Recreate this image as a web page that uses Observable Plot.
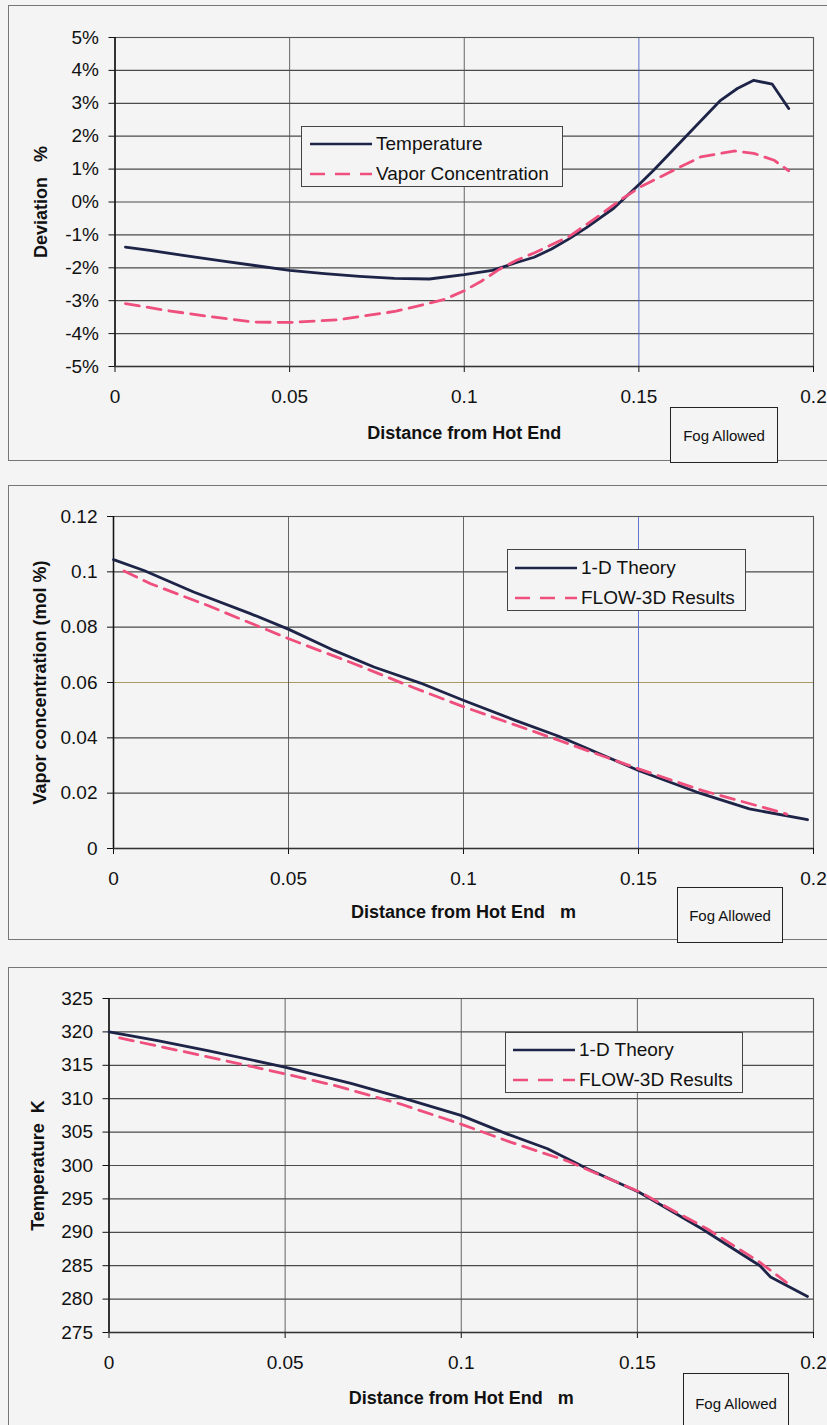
<!DOCTYPE html>
<html><head><meta charset="utf-8">
<script src="https://cdn.jsdelivr.net/npm/d3@7"></script>
<script src="https://cdn.jsdelivr.net/npm/@observablehq/plot@0.6"></script>
<style>
body{margin:0;background:#f4f4f4;font-family:"Liberation Sans",Arial,sans-serif;}
#page{position:relative;width:827px;height:1425px;overflow:hidden;background:#f4f4f4;}
.panel{position:absolute;left:0;}
.frame{position:absolute;border:1.5px solid #777;box-sizing:border-box;}
.legend{position:absolute;border:1px solid #444;background:#f4f4f4;box-sizing:border-box;font-size:19px;color:#111;}
.legend .item{position:absolute;display:flex;align-items:center;white-space:nowrap;}
.legend svg{display:block;}
.fog{position:absolute;border:1.5px solid #222;box-sizing:border-box;font-size:15px;display:flex;align-items:center;justify-content:center;color:#111;background:#f4f4f4;}
</style>
</head><body><div id="page"></div>
<script>
// ---------- Data ----------
const xTicks = [0, 0.05, 0.1, 0.15, 0.2];
const xTickLabels = ["0", "0.05", "0.1", "0.15", "0.2"];

// Panel 1: deviation (%)
const devTicks = [-5, -4, -3, -2, -1, 0, 1, 2, 3, 4, 5];
const devTickLabels = ["-5%", "-4%", "-3%", "-2%", "-1%", "0%", "1%", "2%", "3%", "4%", "5%"];
const devSeriesNames = ["Temperature", "Vapor Concentration"];
const devTempX = [0.003, 0.01, 0.02, 0.03, 0.04, 0.05, 0.06, 0.07, 0.08, 0.09, 0.1, 0.108, 0.115, 0.12, 0.125, 0.13, 0.135, 0.1428, 0.1505, 0.1543, 0.1638, 0.1734, 0.1782, 0.1829, 0.1882, 0.1929];
const devTempY = [-1.37, -1.47, -1.63, -1.78, -1.93, -2.08, -2.18, -2.26, -2.32, -2.34, -2.21, -2.08, -1.84, -1.68, -1.43, -1.12, -0.78, -0.19, 0.58, 0.97, 2.03, 3.09, 3.45, 3.70, 3.58, 2.84];
const devVapX = [0.003, 0.015, 0.0276, 0.0397, 0.0503, 0.0639, 0.0805, 0.0941, 0.1, 0.105, 0.11, 0.115, 0.12, 0.125, 0.13, 0.1375, 0.1447, 0.1505, 0.1581, 0.1677, 0.1772, 0.1829, 0.1887, 0.1929];
const devVapY = [-3.09, -3.30, -3.49, -3.65, -3.66, -3.58, -3.32, -2.97, -2.70, -2.40, -2.05, -1.77, -1.55, -1.30, -1.05, -0.50, 0.06, 0.46, 0.87, 1.37, 1.55, 1.48, 1.27, 0.95];

// Panel 2: vapor concentration (mol %)
const vapTicks = [0, 0.02, 0.04, 0.06, 0.08, 0.1, 0.12];
const vapTickLabels = ["0", "0.02", "0.04", "0.06", "0.08", "0.1", "0.12"];
const cmpSeriesNames = ["1-D Theory", "FLOW-3D Results"];
const vapTheoryX = [0, 0.0087, 0.0229, 0.0391, 0.0501, 0.063, 0.0744, 0.0877, 0.1001, 0.1144, 0.1274, 0.15, 0.1666, 0.1817, 0.1983];
const vapTheoryY = [0.1044, 0.1005, 0.0927, 0.0849, 0.0792, 0.0716, 0.0656, 0.0598, 0.0535, 0.0465, 0.0405, 0.0282, 0.0204, 0.0143, 0.0104];
const vapFlowX = [0.003, 0.0106, 0.0268, 0.042, 0.0501, 0.0687, 0.0858, 0.1003, 0.1259, 0.15, 0.1681, 0.1907, 0.1923];
const vapFlowY = [0.1003, 0.0957, 0.0879, 0.0800, 0.0758, 0.0668, 0.0581, 0.0511, 0.0397, 0.0288, 0.0210, 0.0131, 0.0124];

// Panel 3: temperature (K)
const tmpTicks = [275, 280, 285, 290, 295, 300, 305, 310, 315, 320, 325];
const tmpTickLabels = ["275", "280", "285", "290", "295", "300", "305", "310", "315", "320", "325"];
const tmpTheoryX = [0, 0.0138, 0.028, 0.0502, 0.0687, 0.0828, 0.0999, 0.1131, 0.1245, 0.1358, 0.1505, 0.1684, 0.1848, 0.1878, 0.1983];
const tmpTheoryY = [320.0, 318.7, 317.2, 314.7, 312.3, 310.2, 307.5, 304.7, 302.5, 299.5, 296.0, 290.5, 285.0, 283.3, 280.4];
const tmpFlowX = [0.003, 0.0261, 0.0502, 0.0639, 0.0828, 0.0999, 0.114, 0.13, 0.1509, 0.1579, 0.1699, 0.1848, 0.1923];
const tmpFlowY = [319.1, 316.5, 313.7, 312.0, 309.2, 306.2, 303.5, 300.7, 296.0, 293.9, 290.5, 285.5, 282.5];

const fogText = "Fog Allowed";

// ---------- Style ----------
const SOLID = "#1d2447";
const DASH = "#ee4f7d";
const FONT = "Liberation Sans, Arial, sans-serif";

const page = document.getElementById("page");
const zip = (xs, ys) => xs.map((x, i) => ({x, y: ys[i]}));

function panel(cfg) {
  const t1 = zip(cfg.s1x, cfg.s1y), t2 = zip(cfg.s2x, cfg.s2y);
  const ymin = cfg.yTicks[0], ymax = cfg.yTicks[cfg.yTicks.length - 1];
  const chart = Plot.plot({
    width: 827, height: cfg.height,
    marginLeft: cfg.ml, marginRight: 14, marginTop: cfg.mt, marginBottom: cfg.mb,
    style: {background: "transparent", fontFamily: FONT, fontSize: "19px", color: "#111", overflow: "visible"},
    x: {domain: [0, 0.2]},
    y: {domain: [ymin, ymax]},
    marks: [
      Plot.gridY(cfg.yTicks, {stroke: d => (cfg.yGridColor && cfg.yGridColor[d]) || "#4a4a4a", strokeOpacity: 1, strokeWidth: 1.2}),
      Plot.gridX([0.05, 0.1, 0.15], {stroke: d => (cfg.blue15 && d === 0.15) ? "#4f66c8" : "#555", strokeOpacity: 1, strokeWidth: 0.9}),
      Plot.frame({stroke: "#555", strokeWidth: 1.1}),
      Plot.axisY(cfg.yTicks, {tickSize: 6, tickPadding: 10, label: null, fontSize: 19, tickFormat: d => cfg.yLabels[cfg.yTicks.indexOf(d)], stroke: "#111", fill: "#111"}),
      Plot.axisX(xTicks, {tickSize: 6, tickPadding: 17, label: null, fontSize: 19, tickFormat: d => xTickLabels[xTicks.indexOf(d)], stroke: "#111", fill: "#111"}),
      Plot.ruleX([0], {stroke: "#111", strokeWidth: 1.5}),
      Plot.ruleY([ymin], {stroke: "#333", strokeWidth: 1.5}),
      Plot.line(t1, {x: "x", y: "y", stroke: SOLID, strokeWidth: 2.8}),
      Plot.line(t2, {x: "x", y: "y", stroke: DASH, strokeWidth: 2.8, strokeDasharray: "14,8"}),
      Plot.text([cfg.yTitle], {frameAnchor: "left", rotate: -90, dx: -(cfg.ml - cfg.yTitleX), lineAnchor: "middle", textAnchor: "middle", fontWeight: "bold", fontSize: 18, fill: "#111"}),
      Plot.text([cfg.xTitle], {frameAnchor: "bottom", dy: cfg.xTitleDy, lineAnchor: "middle", textAnchor: "middle", fontWeight: "bold", fontSize: 18, fill: "#111"})
    ]
  });
  const wrap = document.createElement("div");
  wrap.className = "panel";
  wrap.style.top = cfg.top + "px";
  wrap.appendChild(chart);

  const frame = document.createElement("div");
  frame.className = "frame";
  Object.assign(frame.style, cfg.frame);
  page.appendChild(frame);
  page.appendChild(wrap);

  // legend
  const lg = document.createElement("div");
  lg.className = "legend";
  Object.assign(lg.style, {left: cfg.legend.left + "px", top: cfg.legend.top + "px", width: cfg.legend.w + "px", height: cfg.legend.h + "px"});
  cfg.names.forEach((name, i) => {
    const it = document.createElement("div");
    it.className = "item";
    it.style.left = cfg.legend.pad + "px";
    it.style.top = (cfg.legend.rows[i] - 12) + "px";
    it.style.height = "24px";
    const dash = i === 1 ? 'stroke-dasharray="15,10"' : "";
    it.innerHTML = `<svg width="${cfg.legend.lw}" height="6"><line x1="0" y1="3" x2="${cfg.legend.lw}" y2="3" stroke="${i === 1 ? DASH : SOLID}" stroke-width="2.6" ${dash}/></svg><span style="margin-left:4px">${name}</span>`;
    lg.appendChild(it);
  });
  page.appendChild(lg);

  const fog = document.createElement("div");
  fog.className = "fog";
  Object.assign(fog.style, {left: cfg.fog[0] + "px", top: cfg.fog[1] + "px", width: cfg.fog[2] + "px", height: cfg.fog[3] + "px"});
  fog.textContent = fogText;
  page.appendChild(fog);
}

panel({
  top: 0, height: 470, ml: 114.5, mt: 37, mb: 104,
  yTicks: devTicks, yLabels: devTickLabels,
  s1x: devTempX, s1y: devTempY, s2x: devVapX, s2y: devVapY,
  names: devSeriesNames, blue15: true,
  yTitle: "Deviation \u00a0 %", yTitleX: 41,
  xTitle: "Distance from Hot End", xTitleDy: 67,
  frame: {left: "8px", top: "5px", width: "840px", height: "456px"},
  legend: {left: 301, top: 126, w: 262, h: 61, pad: 8, lw: 62, rows: [17, 47]},
  fog: [670, 407, 108, 56]
});

panel({
  top: 480, height: 470, ml: 113, mt: 36, mb: 102,
  yTicks: vapTicks, yLabels: vapTickLabels,
  s1x: vapTheoryX, s1y: vapTheoryY, s2x: vapFlowX, s2y: vapFlowY,
  names: cmpSeriesNames, blue15: true, yGridColor: {0.06: "#a89c62"},
  yTitle: "Vapor concentration (mol %)", yTitleX: 40,
  xTitle: "Distance from Hot End \u00a0 m", xTitleDy: 64,
  frame: {left: "8px", top: "485px", width: "840px", height: "455px"},
  legend: {left: 507, top: 549, w: 239, h: 62, pad: 7, lw: 62, rows: [18, 48]},
  fog: [677, 887, 106, 56]
});

panel({
  top: 960, height: 465, ml: 108.5, mt: 38, mb: 93,
  yTicks: tmpTicks, yLabels: tmpTickLabels,
  s1x: tmpTheoryX, s1y: tmpTheoryY, s2x: tmpFlowX, s2y: tmpFlowY,
  names: cmpSeriesNames, blue15: false,
  yTitle: "Temperature \u00a0K", yTitleX: 38,
  xTitle: "Distance from Hot End \u00a0 m", xTitleDy: 66,
  frame: {left: "8px", top: "967px", width: "840px", height: "500px"},
  legend: {left: 505, top: 1032, w: 238, h: 61, pad: 7, lw: 62, rows: [17, 47]},
  fog: [683, 1373, 106, 60]
});
</script>
</body></html>
